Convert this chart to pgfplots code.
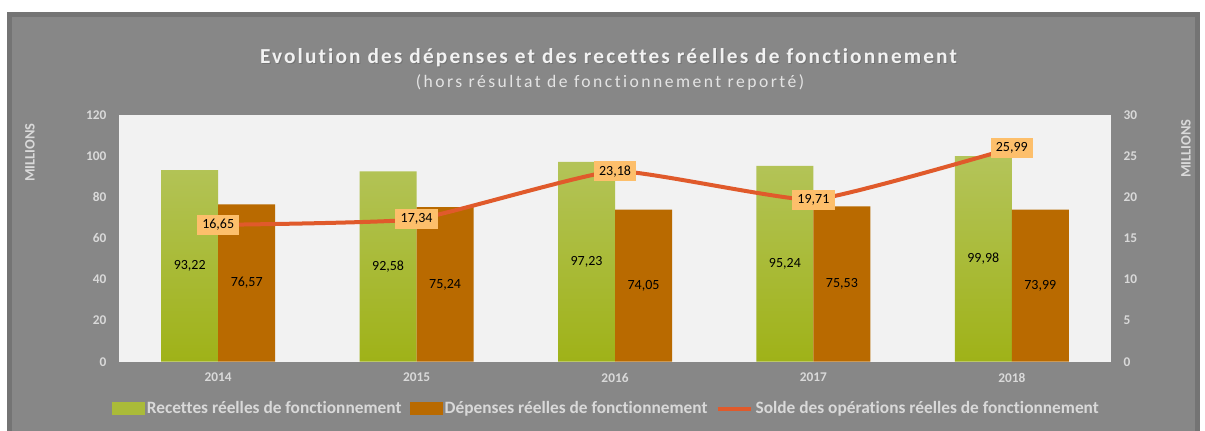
\documentclass[border=0pt]{standalone}
\usepackage{pgfplots}
\pgfplotsset{compat=1.18}
\usepackage{fontspec}
\setmainfont{Carlito}[Ligatures={NoCommon}]
\newfontfamily\titlefont[LetterSpace=10,Ligatures={NoCommon}]{Carlito}
\newfontfamily\subtitlefont[LetterSpace=14,Ligatures={NoCommon}]{Carlito}
\definecolor{panelbg}{HTML}{878787}
\definecolor{panelborder}{HTML}{747474}
\definecolor{plotbg}{HTML}{F2F2F2}
\definecolor{ticktxt}{HTML}{D9D9D9}
\definecolor{greentop}{HTML}{B4C45A}
\definecolor{greenbot}{HTML}{9FB218}
\definecolor{barbrown}{HTML}{B96A00}
\definecolor{lineorange}{HTML}{E05A2B}
\definecolor{boxorange}{HTML}{FDBF6B}
\begin{document}
\begin{tikzpicture}[x=0.75pt,y=0.75pt]
\useasboundingbox (0,0) rectangle (1205,430);
\fill[white] (0,0) rectangle (1205,430);
\fill[panelborder] (7,-5) rectangle (1200,418);
\fill[panelbg] (12,-5) rectangle (1195,413);
% title
\node[text=black!55] at (609.5,371.5) {\titlefont\fontsize{16}{18}\selectfont\bfseries Evolution des dépenses et des recettes réelles de fonctionnement};
\node[text=white!95!black] at (608.5,372.5) {\titlefont\fontsize{16}{18}\selectfont\bfseries Evolution des dépenses et des recettes réelles de fonctionnement};
\node[text=ticktxt!70!white] at (610,348) {\subtitlefont\fontsize{13.2}{15}\selectfont (hors résultat de fonctionnement reporté)};
% MILLIONS labels
\node[rotate=90, anchor=east, inner sep=0pt, text=ticktxt] at (30,307) {\fontsize{10.8}{12}\selectfont\bfseries MILLIONS};
\node[rotate=90, anchor=east, inner sep=0pt, text=ticktxt] at (1186,311) {\fontsize{10.8}{12}\selectfont\bfseries MILLIONS};

\begin{axis}[
  at={(89.25pt,51.2pt)}, anchor=south west,
  scale only axis, width=744pt, height=185pt,
  axis background/.style={fill=plotbg},
  axis line style={draw=none},
  major tick length=0pt,
  xmin=-0.5, xmax=4.5, ymin=0, ymax=120,
  xtick={0,1,2,3,4}, xticklabels={2014,2015,2016,2017,2018},
  ytick={0,20,...,120},
  ybar=0pt, bar width=42.75pt,
  /pgf/number format/assume math mode=true,
  tick label style={text=ticktxt, font=\fontsize{10}{12}\selectfont\bfseries},
  xticklabel style={yshift=-5pt},
  yticklabel style={xshift=-6pt},
  legend style={at={(0.4915,-0.19)}, anchor=center, draw=none, fill=none,
    font=\fontsize{13}{15}\selectfont\bfseries, text=ticktxt,
    /tikz/every even column/.append style={column sep=4pt}},
  legend columns=3,
  visualization depends on={rawy \as \rawy},
  nodes near coords={\pgfmathprintnumber[fixed,fixed zerofill,precision=2,use comma]{\rawy}},
  every node near coord/.append style={anchor=center, text=black,
     font=\fontsize{10.5}{12}\selectfont, shift={(axis direction cs:0,-\rawy/2)}},
]
\addplot[forget plot, draw=none, top color=greentop, bottom color=greenbot, bar shift=-21.375pt] coordinates {(0,93.22) (1,92.58) (2,97.23) (3,95.24) (4,99.98)};
\addplot[forget plot, draw=none, fill=barbrown, bar shift=21.375pt] coordinates {(0,76.57) (1,75.24) (2,74.05) (3,75.53) (4,73.99)};
\addlegendimage{legend image code/.code={\fill[greentop!50!greenbot] (0pt,-4.5pt) rectangle (24pt,4.5pt);}}
\addlegendentry{Recettes réelles de fonctionnement}
\addlegendimage{legend image code/.code={\fill[barbrown] (0pt,-4.5pt) rectangle (24pt,4.5pt);}}
\addlegendentry{Dépenses réelles de fonctionnement}
\addlegendimage{legend image code/.code={\draw[lineorange, line width=3pt] (0pt,0pt) -- (25pt,0pt);}}
\addlegendentry{Solde des opérations réelles de fonctionnement}
\end{axis}

\begin{axis}[
  at={(89.25pt,51.2pt)}, anchor=south west,
  scale only axis, width=744pt, height=185pt,
  axis y line*=right, hide x axis,
  axis line style={draw=none},
  major tick length=0pt,
  xmin=-0.5, xmax=4.5, ymin=0, ymax=30,
  ytick={0,5,...,30},
  /pgf/number format/assume math mode=true,
  tick label style={text=ticktxt, font=\fontsize{10}{12}\selectfont\bfseries},
  yticklabel style={xshift=6pt},
]
\addplot[lineorange, line width=3pt, smooth, tension=0.25, mark=none,
  nodes near coords={\pgfmathprintnumber[fixed,fixed zerofill,precision=2,use comma]{\pgfplotspointmeta}},
  point meta=y,
  every node near coord/.append style={anchor=center, fill=boxorange, text=black,
    inner xsep=4pt, inner ysep=3.5pt, font=\fontsize{10.5}{12}\selectfont}]
 coordinates {(0,16.65) (1,17.34) (2,23.18) (3,19.71) (4,25.99)};
\end{axis}
\end{tikzpicture}
\end{document}
